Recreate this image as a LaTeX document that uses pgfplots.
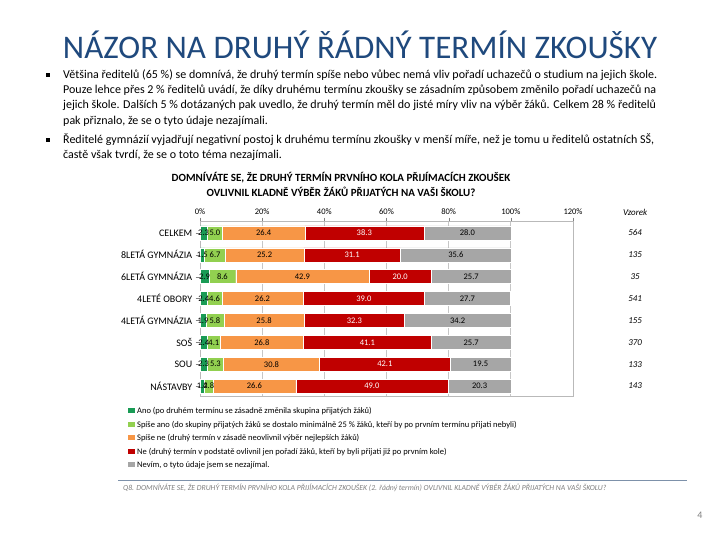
\documentclass[border=0pt]{standalone}
\usepackage{pgfplots}
\pgfplotsset{compat=1.18}
\usepackage{pgfplotstable}
\usepackage{fontspec}
\setmainfont{Carlito}
\definecolor{cA}{RGB}{25,155,85}
\definecolor{cB}{RGB}{146,208,80}
\definecolor{cC}{RGB}{247,150,70}
\definecolor{cD}{RGB}{192,0,0}
\definecolor{cE}{RGB}{166,166,166}
\definecolor{titleblue}{RGB}{31,73,125}
\definecolor{footline}{RGB}{125,145,170}

\pgfplotstableread{
i ano sano sne ne nevim
0 2.3 5.0 26.4 38.3 28.0
1 1.5 6.7 25.2 31.1 35.6
2 2.9 8.6 42.9 20.0 25.7
3 2.4 4.6 26.2 39.0 27.7
4 1.9 5.8 25.8 32.3 34.2
5 2.4 4.1 26.8 41.1 25.7
6 2.3 5.3 30.8 42.1 19.5
7 1.4 2.8 26.6 49.0 20.3
}\mydata

\begin{document}
\begin{tikzpicture}[x=1pt,y=1pt]
\path[use as bounding box, fill=white] (0,0) rectangle (720,540);
\pgfkeys{/pgf/number format/.cd,fixed,fixed zerofill,precision=1,assume math mode=true}

\node[font=\fontsize{33}{37}\selectfont, text=titleblue] at (360,495) {NÁZOR NA DRUHÝ ŘÁDNÝ TERMÍN ZKOUŠKY};

\fill (46,463) rectangle (49.5,466.5);
\node[anchor=base west, inner sep=0pt, font=\fontsize{12}{14}\selectfont] at (63,461) {Většina ředitelů (65 \%) se domnívá, že druhý termín spíše nebo vůbec nemá vliv pořadí uchazečů o studium na jejich škole.};
\node[anchor=base west, inner sep=0pt, font=\fontsize{12}{14}\selectfont] at (63,446) {Pouze lehce přes 2 \% ředitelů uvádí, že díky druhému termínu zkoušky se zásadním způsobem změnilo pořadí uchazečů na};
\node[anchor=base west, inner sep=0pt, font=\fontsize{12}{14}\selectfont] at (63,431) {jejich škole. Dalších 5 \% dotázaných pak uvedlo, že druhý termín měl do jisté míry vliv na výběr žáků. Celkem 28 \% ředitelů};
\node[anchor=base west, inner sep=0pt, font=\fontsize{12}{14}\selectfont] at (63,415) {pak přiznalo, že se o tyto údaje nezajímali.};
\fill (46,398) rectangle (49.5,401.5);
\node[anchor=base west, inner sep=0pt, font=\fontsize{12}{14}\selectfont] at (63,396) {Ředitelé gymnázií vyjadřují negativní postoj k druhému termínu zkoušky v menší míře, než je tomu u ředitelů ostatních SŠ,};
\node[anchor=base west, inner sep=0pt, font=\fontsize{12}{14}\selectfont] at (63,381) {častě však tvrdí, že se o toto téma nezajímali.};

\node[font=\bfseries\fontsize{11}{12}\selectfont] at (341,362) {DOMNÍVÁTE SE, ŽE DRUHÝ TERMÍN PRVNÍHO KOLA PŘIJÍMACÍCH ZKOUŠEK};
\node[font=\bfseries\fontsize{11}{12}\selectfont] at (341,348) {OVLIVNIL KLADNĚ VÝBĚR ŽÁKŮ PŘIJATÝCH NA VAŠI ŠKOLU?};

\begin{axis}[
  at={(200pt,143pt)}, anchor=south west,
  scale only axis, width=373pt, height=175pt,
  xbar stacked, bar width=14pt,
  xmin=0, xmax=120, ymin=-0.5, ymax=7.5, y dir=reverse,
  xtick={0,20,40,60,80,100,120},
  xticklabels={0\%,20\%,40\%,60\%,80\%,100\%,120\%},
  xtick pos=right, xticklabel pos=right,
  tick align=outside,
  ytick={0,1,2,3,4,5,6,7},
  yticklabels={CELKEM,8LETÁ GYMNÁZIA,6LETÁ GYMNÁZIA,4LETÉ OBORY,4LETÁ GYMNÁZIA,SOŠ,SOU,NÁSTAVBY},
  ytick pos=left,
  xmajorgrids, grid style={draw=gray!45, line width=1pt},
  axis line style={draw=gray!55, line width=1pt},
  xticklabel style={font=\fontsize{8.5}{9}\selectfont},
  yticklabel style={font=\fontsize{10}{11}\selectfont},
  nodes near coords,
  every node near coord/.append style={font=\fontsize{8.5}{9}\selectfont},
  clip=false,
  legend style={at={(-0.205,-0.03)}, anchor=north west, draw=none, fill=none,
    font=\fontsize{8.5}{10}\selectfont, nodes={minimum height=13.5pt}},
  legend cell align=left,
]
\addplot[fill=cA, draw=white] table[x=ano, y=i] {\mydata};
\addplot[fill=cB, draw=white] table[x=sano, y=i] {\mydata};
\addplot[fill=cC, draw=white] table[x=sne, y=i] {\mydata};
\addplot[fill=cD, draw=white, every node near coord/.append style={text=white}] table[x=ne, y=i] {\mydata};
\addplot[fill=cE, draw=white] table[x=nevim, y=i] {\mydata};
\legend{Ano (po druhém termínu se zásadně změnila skupina přijatých žáků),
Spíše ano (do skupiny přijatých žáků se dostalo minimálně 25 \% žáků{,} kteří by po prvním termínu přijati nebyli),
Spíše ne (druhý termín v zásadě neovlivnil výběr nejlepších žáků),
Ne (druhý termín v podstatě ovlivnil jen pořadí žáků{,} kteří by byli přijati již po prvním kole),
{Nevím, o tyto údaje jsem se nezajímal.}}
\node[font=\itshape\fontsize{9}{10}\selectfont] at (axis cs:140,-0.92) {Vzorek};
\node[font=\itshape\fontsize{9}{10}\selectfont] at (axis cs:140,0) {564};
\node[font=\itshape\fontsize{9}{10}\selectfont] at (axis cs:140,1) {135};
\node[font=\itshape\fontsize{9}{10}\selectfont] at (axis cs:140,2) {35};
\node[font=\itshape\fontsize{9}{10}\selectfont] at (axis cs:140,3) {541};
\node[font=\itshape\fontsize{9}{10}\selectfont] at (axis cs:140,4) {155};
\node[font=\itshape\fontsize{9}{10}\selectfont] at (axis cs:140,5) {370};
\node[font=\itshape\fontsize{9}{10}\selectfont] at (axis cs:140,6) {133};
\node[font=\itshape\fontsize{9}{10}\selectfont] at (axis cs:140,7) {143};
\end{axis}

\draw[footline, line width=1pt] (118,59) -- (687,59);
\node[anchor=west, inner sep=0pt, text=gray, font=\itshape\fontsize{7.7}{8}\selectfont] at (123,52) {Q8. DOMNÍVÁTE SE, ŽE DRUHÝ TERMÍN PRVNÍHO KOLA PŘIJÍMACÍCH ZKOUŠEK (2. řádný termín) OVLIVNIL KLADNĚ VÝBĚR ŽÁKŮ PŘIJATÝCH NA VAŠI ŠKOLU?};
\node[text=gray, font=\fontsize{10}{11}\selectfont] at (700,25) {4};
\end{tikzpicture}
\end{document}
